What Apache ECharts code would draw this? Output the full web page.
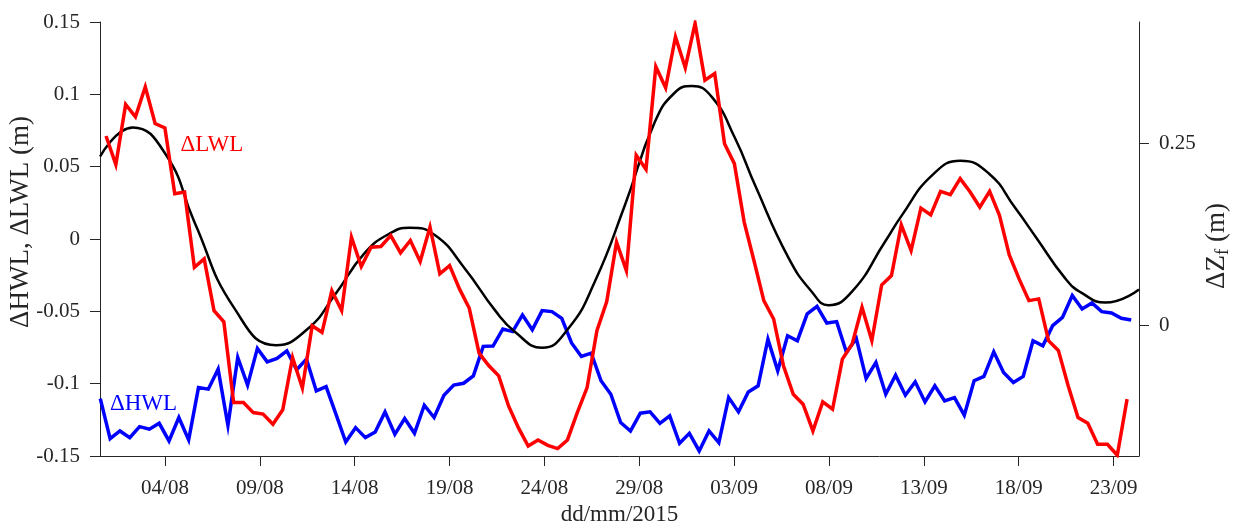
<!DOCTYPE html>
<html>
<head>
<meta charset="utf-8">
<script src="https://cdn.jsdelivr.net/npm/echarts@6/dist/echarts.min.js"></script>
<style>
  html, body { margin: 0; padding: 0; background: #ffffff; }
  #chart { width: 1236px; height: 524px; }
</style>
</head>
<body>
<div id="chart"></div>
<script>
// Time is counted in days from 04/08/2015 00:00.
const tickDays = [0, 5, 10, 15, 20, 25, 30, 35, 40, 45, 50];
const tickLabels = ['04/08', '09/08', '14/08', '19/08', '24/08', '29/08', '03/09', '08/09', '13/09', '18/09', '23/09'];
const zfTickValues = [0, 0.25];

// One low / high water per M2 tidal cycle (12.42 h).
const tideStepDays = 12.42 / 24;
const lwlStartDay = -3.108;
const hwlStartDay = -3.409;

// Low-water level anomaly, one value per tide (m)
const lwlValues = [
  0.0712, 0.0514, 0.0930, 0.0844, 0.1052, 0.0798, 0.0768, 0.0313, 0.0324, -0.0195,
  -0.0137, -0.0495, -0.0572, -0.1130, -0.1130, -0.1200, -0.1210, -0.1280, -0.1180, -0.0820,
  -0.1030, -0.0600, -0.0645, -0.0357, -0.0495, 0.0013, -0.0190, -0.0057, -0.0052, 0.0024,
  -0.0096, -0.0010, -0.0156, 0.0082, -0.0241, -0.0184, -0.0345, -0.0479, -0.0789, -0.0876,
  -0.0946, -0.1154, -0.1304, -0.1431, -0.1389, -0.1426, -0.1449, -0.1389, -0.1200, -0.1027,
  -0.0634, -0.0433, -0.0022, -0.0218, 0.0579, 0.0482, 0.1191, 0.1045, 0.1398, 0.1184,
  0.1490, 0.1098, 0.1144, 0.0659, 0.0521, 0.0117, -0.0150, -0.0426, -0.0553, -0.0876,
  -0.1073, -0.1142, -0.1327, -0.1126, -0.1177, -0.0830, -0.0726, -0.0472, -0.0703, -0.0318,
  -0.0253, 0.0098, -0.0080, 0.0214, 0.0167, 0.0329, 0.0306, 0.0417, 0.0327, 0.0220,
  0.0329, 0.0163, -0.0110, -0.0276, -0.0426, -0.0414, -0.0703, -0.0770, -0.1015, -0.1234,
  -0.1273, -0.1419, -0.1419, -0.1495, -0.1107
];

// High-water level anomaly, one value per tide (m)
const hwlValues = [
  -0.1103, -0.1380, -0.1327, -0.1373, -0.1297, -0.1315, -0.1274, -0.1396, -0.1234, -0.1389,
  -0.1027, -0.1038, -0.0900, -0.1288, -0.0819, -0.1010, -0.0756, -0.0849, -0.0826, -0.0773,
  -0.0904, -0.0830, -0.1050, -0.1020, -0.1211, -0.1403, -0.1304, -0.1373, -0.1334, -0.1195,
  -0.1350, -0.1241, -0.1343, -0.1149, -0.1234, -0.1080, -0.1010, -0.0997, -0.0946, -0.0742,
  -0.0740, -0.0622, -0.0640, -0.0525, -0.0627, -0.0495, -0.0502, -0.0548, -0.0719, -0.0812,
  -0.0789, -0.0980, -0.1073, -0.1269, -0.1327, -0.1204, -0.1195, -0.1274, -0.1223, -0.1412,
  -0.1343, -0.1465, -0.1327, -0.1408, -0.1096, -0.1195, -0.1057, -0.1015, -0.0692, -0.0911,
  -0.0669, -0.0703, -0.0518, -0.0465, -0.0581, -0.0571, -0.0784, -0.0687, -0.0964, -0.0853,
  -0.1073, -0.0941, -0.1080, -0.0987, -0.1126, -0.1015, -0.1119, -0.1096, -0.1218, -0.0980,
  -0.0950, -0.0780, -0.0923, -0.0992, -0.0950, -0.0703, -0.0738, -0.0599, -0.0542, -0.0391,
  -0.0484, -0.0442, -0.0502, -0.0511, -0.0548, -0.0560
];

// Fortnightly mean-level variation ΔZf (m), right axis
const zfDays = [
  -3.42, -1.70, 0.06, 1.55, 3.66, 5.86, 7.53, 8.94, 10.52,
  11.84, 12.90, 14.22, 15.80, 17.38, 18.44, 19.88, 21.25, 22.66, 24.24,
  25.83, 26.88, 27.76, 28.82, 30.05, 31.11, 32.86, 34.09, 34.97,
  36.21, 37.96, 38.84, 40.43, 41.92, 43.41, 44.82, 45.88, 47.46, 48.34,
  49.57, 51.34
];
const zfValues = [
  0.232, 0.272, 0.234, 0.142, 0.023, -0.0275, -0.005, 0.041, 0.099,
  0.126, 0.134, 0.124, 0.078, 0.021, -0.009, -0.031, -0.005, 0.060, 0.165,
  0.280, 0.320, 0.329, 0.314, 0.257, 0.192, 0.093, 0.046, 0.0275,
  0.046, 0.115, 0.151, 0.206, 0.226, 0.209, 0.161, 0.122, 0.064, 0.044,
  0.031, 0.049
];

const FONT = "'Liberation Serif', 'Times New Roman', serif";
const AXIS_COLOR = '#262626';

const lwlData = lwlValues.map((v, i) => [lwlStartDay + i * tideStepDays, v]);
const hwlData = hwlValues.map((v, i) => [hwlStartDay + i * tideStepDays, v]);
const zfData = zfValues.map((v, i) => [zfDays[i], v]);

function fmtNum(v) {
  return String(parseFloat(Number(v).toFixed(3)));
}

const chart = echarts.init(document.getElementById('chart'), null, { renderer: 'canvas' });

chart.setOption({
  animation: false,
  backgroundColor: '#ffffff',
  grid: { left: 100, right: 97, top: 22, bottom: 68, containLabel: false, outerBoundsMode: 'none' },
  xAxis: {
    type: 'value',
    min: -3.425,
    max: 51.34,
    name: 'dd/mm/2015',
    nameLocation: 'middle',
    nameGap: 44,
    nameTextStyle: { fontFamily: FONT, fontSize: 23, color: AXIS_COLOR },
    axisLine: { show: true, onZero: false, lineStyle: { color: AXIS_COLOR, width: 1 } },
    axisTick: { show: true, inside: false, length: 10, customValues: tickDays, lineStyle: { color: AXIS_COLOR } },
    axisLabel: {
      customValues: tickDays,
      margin: 22,
      fontFamily: FONT, fontSize: 21, color: AXIS_COLOR,
      formatter: (v) => {
        const k = tickDays.indexOf(Math.round(v));
        return k >= 0 ? tickLabels[k] : '';
      }
    },
    splitLine: { show: false }
  },
  yAxis: [
    {
      type: 'value',
      position: 'left',
      min: -0.15,
      max: 0.15,
      interval: 0.05,
      axisLine: { show: true, onZero: false, lineStyle: { color: AXIS_COLOR, width: 1 } },
      axisTick: { show: true, inside: false, length: 10, lineStyle: { color: AXIS_COLOR } },
      axisLabel: { margin: 20, fontFamily: FONT, fontSize: 21, color: AXIS_COLOR, formatter: fmtNum },
      splitLine: { show: false }
    },
    {
      type: 'value',
      position: 'right',
      min: -0.18,
      max: 0.417,
      axisLine: { show: true, onZero: false, lineStyle: { color: AXIS_COLOR, width: 1 } },
      axisTick: { show: true, inside: false, length: 10, customValues: zfTickValues, lineStyle: { color: AXIS_COLOR } },
      axisLabel: { customValues: zfTickValues, margin: 20, fontFamily: FONT, fontSize: 21, color: AXIS_COLOR, formatter: fmtNum },
      splitLine: { show: false }
    }
  ],
  series: [
    {
      name: 'ΔHWL',
      type: 'line',
      yAxisIndex: 0,
      data: hwlData,
      showSymbol: false,
      symbol: 'none',
      clip: true,
      lineStyle: { color: '#0000ff', width: 3.5, join: 'miter' },
      z: 2
    },
    {
      name: 'ΔZf',
      type: 'line',
      yAxisIndex: 1,
      data: zfData,
      showSymbol: false,
      symbol: 'none',
      smooth: 0.5,
      clip: true,
      lineStyle: { color: '#000000', width: 2.5 },
      z: 3
    },
    {
      name: 'ΔLWL',
      type: 'line',
      yAxisIndex: 0,
      data: lwlData,
      showSymbol: false,
      symbol: 'none',
      clip: true,
      lineStyle: { color: '#ff0000', width: 3.5, join: 'miter' },
      z: 4
    }
  ]
});

// In-plot series labels, anchored in data coordinates (day, m).
const seriesTags = [
  { text: 'ΔLWL', at: [2.47, 0.065], color: '#ff0000' },
  { text: 'ΔHWL', at: [-1.13, -0.114], color: '#0000ff' }
];
const tagGraphics = seriesTags.map((t) => {
  const p = chart.convertToPixel({ xAxisIndex: 0, yAxisIndex: 0 }, t.at);
  return {
    type: 'text',
    x: p[0],
    y: p[1],
    style: {
      text: t.text,
      fill: t.color,
      font: '23px ' + FONT,
      textAlign: 'center',
      textVerticalAlign: 'middle'
    },
    z: 10
  };
});

// Vertical axis titles, drawn rotated beside each axis.
const titleGraphics = [
  {
    type: 'text',
    x: 21,
    y: 222,
    rotation: Math.PI / 2,
    style: {
      text: 'ΔHWL, ΔLWL (m)',
      fill: AXIS_COLOR,
      font: '27px ' + FONT,
      textAlign: 'center',
      textVerticalAlign: 'middle'
    }
  },
  {
    type: 'text',
    x: 1217,
    y: 246,
    rotation: Math.PI / 2,
    style: {
      text: '{a|ΔZ}{s|f}{a| (m)}',
      fill: AXIS_COLOR,
      textAlign: 'center',
      textVerticalAlign: 'middle',
      rich: {
        a: { fontFamily: FONT, fontSize: 27, fill: AXIS_COLOR, lineHeight: 32, verticalAlign: 'middle' },
        s: { fontFamily: FONT, fontSize: 19, fill: AXIS_COLOR, lineHeight: 18, verticalAlign: 'bottom' }
      }
    }
  }
];

chart.setOption({ graphic: tagGraphics.concat(titleGraphics) });
</script>
</body>
</html>
